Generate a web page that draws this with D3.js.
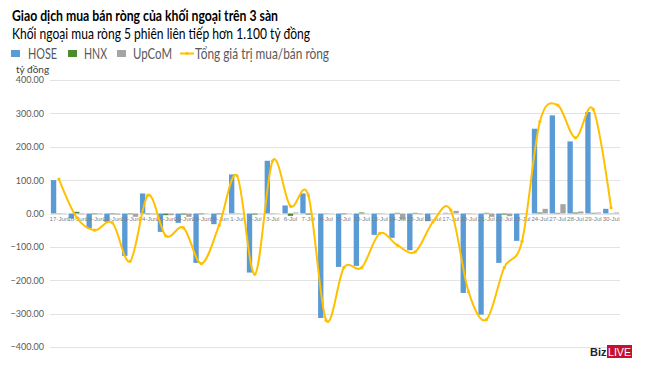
<!DOCTYPE html>
<html><head><meta charset="utf-8">
<script src="https://cdn.jsdelivr.net/npm/d3@7"></script>
<style>body{margin:0;background:#fff}svg{display:block}</style>
</head><body>
<script>
const categories = ["17-Jun","18-Jun","19-Jun","22-Jun","23-Jun","24-Jun","25-Jun","26-Jun","29-Jun","30-Jun",
 "1-Jul","2-Jul","3-Jul","6-Jul","7-Jul","8-Jul","9-Jul","10-Jul","13-Jul","14-Jul","15-Jul","16-Jul","17-Jul",
 "20-Jul","21-Jul","22-Jul","23-Jul","24-Jul","27-Jul","28-Jul","29-Jul","30-Jul"];
const hose  = [100,-15,-45,-25,-127,60,-55,-28,-148,-32,117,-177,158,24,60,-313,-160,-157,-64,-73,-110,-23,2,-238,-303,-148,-82,254,294,216,304,14];
const hnx   = [1,5,-2,-2,-2,-2,-5,-3,-2,-2,1,-3,-1,-7,-3,-1,-2,3,1,2,2,-1,1,1,2,-3,-1,3,2,3,2,1];
const upcom = [-1,-2,-2,-3,-10,-2,-5,-10,-1,-1,-1,-1,-1,3,-1,1,-1,-1,1,-18,-2,1,8,-1,-10,-8,-1,14,28,6,3,3];
const total = [103,-12,-50,-28,-143,55,-67,-43,-150,-35,113,-182,158,22,55,-320,-162,-162,-60,-95,-115,-25,10,-235,-318,-162,-83,275,325,227,312,17];
const yTicks = [-400,-300,-200,-100,0,100,200,300,400];
const seriesNames = ["HOSE","HNX","UpCoM"];
const lineName = "Tổng giá trị mua/bán ròng";
const colors = {HOSE:"#5B9BD5", HNX:"#4E8A30", UpCoM:"#A5A5A5", line:"#FFC000"};

const W=650,H=366;
const svg=d3.select("body").append("svg").attr("width",W).attr("height",H);
const font="Lato, 'Liberation Sans', sans-serif";

// titles
svg.append("text").attr("x",12).attr("y",21).attr("font-family",font).attr("font-weight","bold")
  .attr("font-size",15).attr("fill","#000").attr("textLength",266).attr("lengthAdjust","spacingAndGlyphs")
  .text("Giao dịch mua bán ròng của khối ngoại trên 3 sàn");
svg.append("text").attr("x",12).attr("y",39).attr("font-family",font)
  .attr("font-size",15).attr("fill","#000").attr("textLength",298).attr("lengthAdjust","spacingAndGlyphs")
  .text("Khối ngoại mua ròng 5 phiên liên tiếp hơn 1.100 tỷ đồng");

// legend
const leg = [
  {k:"HOSE", sx:11, tx:28, tw:29},
  {k:"HNX", sx:68, tx:84, tw:23},
  {k:"UpCoM", sx:117, tx:133, tw:39}
];
leg.forEach(l=>{
  svg.append("rect").attr("x",l.sx).attr("y",50).attr("width",9).attr("height",7).attr("fill",colors[l.k]);
  svg.append("text").attr("x",l.tx).attr("y",58.5).attr("font-family",font).attr("font-size",15)
    .attr("fill","#595959").attr("textLength",l.tw).attr("lengthAdjust","spacingAndGlyphs").text(l.k);
});
svg.append("line").attr("x1",180).attr("x2",194).attr("y1",53.5).attr("y2",53.5)
  .attr("stroke",colors.line).attr("stroke-width",2);
svg.append("circle").attr("cx",187).attr("cy",53.5).attr("r",1.6).attr("fill",colors.line);
svg.append("text").attr("x",195).attr("y",58.5).attr("font-family",font).attr("font-size",15)
  .attr("fill","#595959").attr("textLength",134).attr("lengthAdjust","spacingAndGlyphs").text(lineName);

svg.append("text").attr("x",16).attr("y",73).attr("font-family",font).attr("font-size",10)
  .attr("fill","#404040").text("tỷ đồng");

// scales
const y=d3.scaleLinear().domain([-400,400]).range([347,80]);
const x0=d3.scaleBand().domain(categories).range([50,620]).paddingInner(0.1).paddingOuter(0.05);
const x1=d3.scaleBand().domain(seriesNames).range([0,x0.bandwidth()]);

// grid
svg.append("g").selectAll("line").data(yTicks).join("line")
  .attr("x1",50).attr("x2",620).attr("y1",d=>Math.round(y(d))+0.5).attr("y2",d=>Math.round(y(d))+0.5)
  .attr("stroke","#E3E3E3").attr("stroke-width",1);

// y axis
const yAxis=d3.axisLeft(y).tickValues(yTicks).tickFormat(d3.format(".2f")).tickSize(0).tickPadding(0);
const ya=svg.append("g").attr("transform","translate(44,0)").call(yAxis);
ya.select(".domain").remove();
ya.selectAll("text").attr("font-family",font).attr("font-size",9).attr("fill","#595959");

// bars
const data=[hose,hnx,upcom];
const g=svg.append("g");
seriesNames.forEach((s,si)=>{
  g.selectAll(null).data(categories).join("rect")
    .attr("x",c=>x0(c)+x1(s))
    .attr("width",x1.bandwidth())
    .attr("y",(c,i)=>y(Math.max(0,data[si][i])))
    .attr("height",(c,i)=>Math.abs(y(data[si][i])-y(0)))
    .attr("fill",colors[s]);
});

// x axis labels
const xa=svg.append("g").attr("transform",`translate(0,${y(0)})`)
  .call(d3.axisBottom(x0).tickSize(0).tickPadding(3));
xa.select(".domain").remove();
xa.selectAll("text").attr("font-family","'Liberation Sans Narrow', 'Liberation Sans', sans-serif")
  .attr("font-size",6.2).attr("fill","#7f7f7f");

// line
const cx=c=>x0(c)+x0.bandwidth()/2;
const line=d3.line().x((d,i)=>cx(categories[i])).y(d=>y(d)).curve(d3.curveCatmullRom.alpha(0));
svg.append("path").datum(total).attr("d",line).attr("fill","none")
  .attr("stroke",colors.line).attr("stroke-width",2);
svg.append("g").selectAll("circle").data(total).join("circle")
  .attr("cx",(d,i)=>cx(categories[i])).attr("cy",d=>y(d)).attr("r",1.6).attr("fill",colors.line);

// logo
svg.append("text").attr("x",590).attr("y",356).attr("font-family","'Liberation Sans', Arial, sans-serif")
  .attr("font-weight","bold").attr("font-size",11).attr("fill","#222").text("Biz");
svg.append("rect").attr("x",607).attr("y",345).attr("width",25).attr("height",13).attr("fill","#C8102E");
svg.append("text").attr("x",608).attr("y",356).attr("font-family","'Liberation Sans', Arial, sans-serif")
  .attr("font-size",11).attr("fill","#fff").attr("textLength",23).attr("lengthAdjust","spacingAndGlyphs").text("LIVE");
</script>
</body></html>
